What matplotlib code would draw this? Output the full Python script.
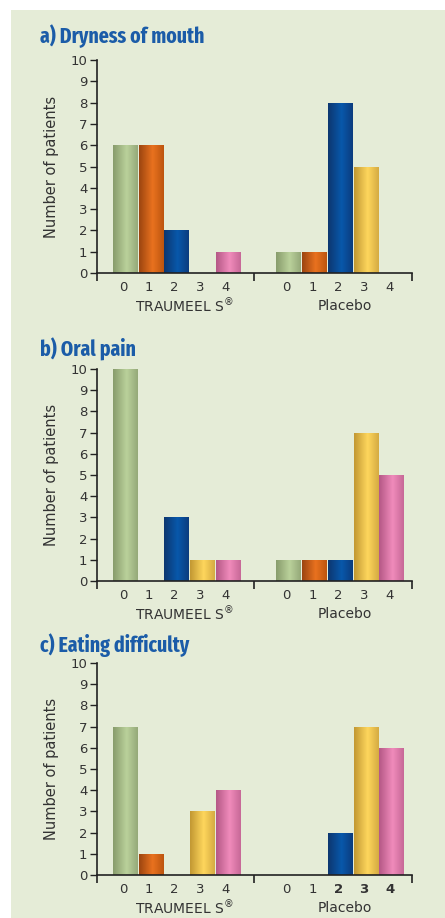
import numpy as np
import matplotlib.pyplot as plt
from matplotlib.colors import LinearSegmentedColormap
from matplotlib import font_manager

# DATA
grades = ['0', '1', '2', '3', '4']
titles = ['a) Dryness of mouth', 'b) Oral pain', 'c) Eating difficulty']
traumeel = [[6, 6, 2, 0, 1],
            [10, 0, 3, 1, 1],
            [7, 1, 0, 3, 4]]
placebo = [[1, 1, 8, 5, 0],
           [1, 1, 1, 7, 5],
           [0, 0, 2, 7, 6]]
group_labels = ['TRAUMEEL S$^{®}$', 'Placebo']

# STYLE
bg = '#e5ecd7'
title_col = '#1b5ca8'
text_col = '#333333'
# dark edge, light highlight, right edge
bar_cols = [('#889c6c', '#bad19b', '#95a979'),
            ('#9c4510', '#e9721f', '#bd550f'),
            ('#0d3770', '#0858ab', '#0c3c7e'),
            ('#c29833', '#fed65c', '#d5ab42'),
            ('#b55886', '#f08bbb', '#c76897')]
cmaps = [LinearSegmentedColormap.from_list('g%d' % i, [(0, c[0]), (0.55, c[1]), (1, c[2])])
         for i, c in enumerate(bar_cols)]

# a condensed bold face for the titles
fonts = font_manager.fontManager.ttflist
title_prop = None
for fam in ['Fira Sans Extra Condensed', 'Fira Sans Condensed', 'Roboto Condensed',
            'PT Sans Narrow', 'Archivo Narrow', 'Asap Condensed', 'Encode Sans Condensed']:
    hits = [f for f in fonts if f.name == fam and f.weight in ('bold', 700)]
    if hits:
        title_prop = font_manager.FontProperties(fname=hits[0].fname, size=15.5)
        break
if title_prop is None:
    hits = [f for f in fonts if f.name == 'DejaVu Sans' and 'ondensed' in str(f.stretch)
            and f.weight in ('bold', 700)]
    if hits:
        title_prop = font_manager.FontProperties(fname=hits[0].fname, size=14)
    else:
        title_prop = font_manager.FontProperties(family='DejaVu Sans', weight='bold', size=13)
plt.rcParams['font.family'] = ['DejaVu Sans']

W, H = 445, 918
fig = plt.figure(figsize=(W / 100, H / 100), dpi=100)
fig.patch.set_facecolor('white')
# green panel
fig.patches.append(plt.Rectangle((11 / W, 0), 1, 1 - 10 / H, transform=fig.transFigure,
                                 facecolor=bg, edgecolor='none', zorder=-5))

pos_t = np.arange(5)
pos_p = np.arange(5) + 6.35
xmin, xmax, xsep = -1.01, 11.22, 5.09

# pixel rows of y=0 and y=10 for each panel, title y
panels = [(273, 60, 36), (581, 369, 349), (875, 663, 645)]

for k, (y0px, y10px, tpx) in enumerate(panels):
    ax = fig.add_axes([97 / W, 1 - y0px / H, 315 / W, (y0px - y10px) / H])
    ax.set_facecolor('none')
    for pos, vals in ((pos_t, traumeel[k]), (pos_p, placebo[k])):
        for i, (x, v) in enumerate(zip(pos, vals)):
            if v == 0:
                continue
            bar = ax.bar(x + 0.08, v, width=0.95, color=bar_cols[i][1], linewidth=0, zorder=2)[0]
            grad = np.linspace(0, 1, 64).reshape(1, -1)
            im = ax.imshow(grad, cmap=cmaps[i], aspect='auto', zorder=2.5,
                           extent=[bar.get_x(), bar.get_x() + bar.get_width(), 0, v])
            im.set_clip_path(bar)
    ax.set_xlim(xmin, xmax)
    ax.set_ylim(0, 10)
    for s in ['top', 'right']:
        ax.spines[s].set_visible(False)
    ax.spines['left'].set_color('#222222')
    ax.spines['bottom'].set_color('#222222')
    ax.spines['left'].set_linewidth(1.2)
    ax.spines['bottom'].set_linewidth(1.2)
    ax.set_yticks(range(11))
    ax.tick_params(axis='y', length=5, width=1, colors='#222222', labelcolor=text_col,
                   labelsize=9.5, pad=2)
    # major x ticks: group separators, minor: grade labels
    ax.set_xticks([xmin, xsep, xmax])
    ax.set_xticklabels([])
    ax.tick_params(axis='x', which='major', length=6, width=1.2, colors='#222222')
    ax.set_xticks(np.concatenate([pos_t, pos_p]), minor=True)
    ax.set_xticklabels(grades + grades, minor=True)
    ax.tick_params(axis='x', which='minor', length=0, pad=6, labelsize=9.5, labelcolor=text_col)
    if k == 2:
        for lab in ax.get_xticklabels(minor=True)[7:]:
            lab.set_fontweight('bold')
    ax.set_ylabel('Number of patients', fontsize=10.5, color=text_col, labelpad=8)
    for xc, lab in zip([2.4, 8.6], group_labels):
        ax.text(xc, -1.55, lab, ha='center', va='center', fontsize=10, color=text_col,
                transform=ax.transData, clip_on=False)
    fig.text(40 / W, 1 - tpx / H, titles[k], fontproperties=title_prop,
             color=title_col, va='center', ha='left')

fig.savefig('out.png', dpi=100, facecolor=fig.get_facecolor())
